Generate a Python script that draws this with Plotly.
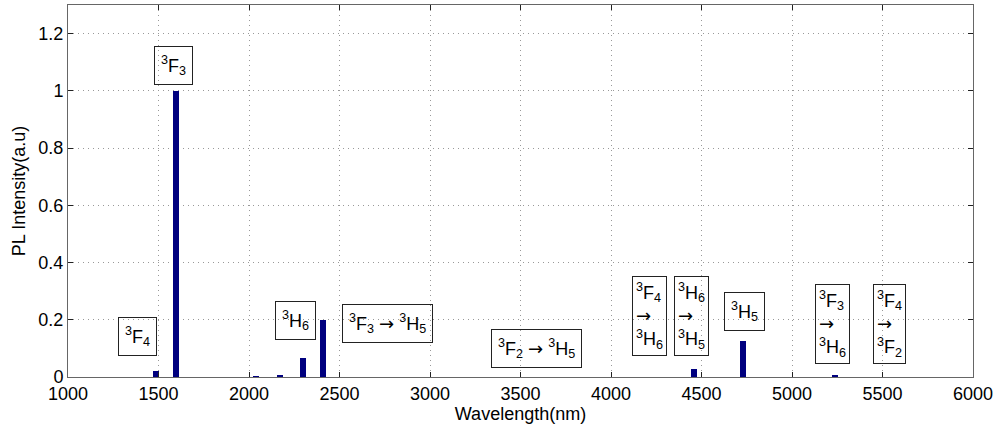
import plotly.graph_objects as go

# Data
wavelengths = [1486, 1597, 2040, 2173, 2297, 2407, 4460, 4727, 5236]
intensities = [0.02, 1.0, 0.002, 0.005, 0.065, 0.2, 0.027, 0.125, 0.008]

ARW = '<span style="font-family:DejaVu Sans">→</span>'
label_texts = [
    "<sup>3</sup>F<sub>4</sub>",
    "<sup>3</sup>F<sub>3</sub>",
    "<sup>3</sup>H<sub>6</sub>",
    "<sup>3</sup>F<sub>3</sub> " + ARW + " <sup>3</sup>H<sub>5</sub>",
    "<sup>3</sup>F<sub>2</sub> " + ARW + " <sup>3</sup>H<sub>5</sub>",
    "<sup>3</sup>F<sub>4</sub><br>" + ARW + "<br><sup>3</sup>H<sub>6</sub>",
    "<sup>3</sup>H<sub>6</sub><br>" + ARW + "<br><sup>3</sup>H<sub>5</sub>",
    "<sup>3</sup>H<sub>5</sub>",
    "<sup>3</sup>F<sub>3</sub><br>" + ARW + "<br><sup>3</sup>H<sub>6</sub>",
    "<sup>3</sup>F<sub>4</sub><br>" + ARW + "<br><sup>3</sup>F<sub>2</sub>",
]
label_x = [1384, 1585, 2258, 2763, 3588, 4212, 4446, 4736, 5222, 5536]
label_y = [0.143, 1.09, 0.197, 0.186, 0.099, 0.212, 0.212, 0.23, 0.185, 0.185]

x_ticks = [1000, 1500, 2000, 2500, 3000, 3500, 4000, 4500, 5000, 5500, 6000]
y_ticks = [0, 0.2, 0.4, 0.6, 0.8, 1.0, 1.2]
y_tick_text = ["0", "0.2", "0.4", "0.6", "0.8", "1", "1.2"]

FONT = "Liberation Sans, Arial, Helvetica, sans-serif"

fig = go.Figure()
fig.add_trace(go.Bar(
    x=wavelengths, y=intensities, width=33,
    marker=dict(color="#00007F", line=dict(width=0)),
    showlegend=False,
))

for t, xx, yy in zip(label_texts, label_x, label_y):
    multi = "<br>" in t
    fig.add_annotation(
        x=xx, y=yy, xref="x", yref="y", text=t, showarrow=False,
        align="left", bordercolor="#222", borderwidth=1,
        borderpad=3 if multi else 6,
        font=dict(family=FONT, size=18, color="black"),
    )

axis_common = dict(
    showline=True, linecolor="#666", linewidth=1, mirror="ticks",
    ticks="inside", ticklen=5, tickcolor="#222",
    showgrid=True, gridcolor="#999", griddash="1px,4px", gridwidth=1,
    zeroline=False, automargin=False,
    tickfont=dict(family=FONT, size=18, color="black"),
)

fig.update_xaxes(
    range=[1000, 6000], tickvals=x_ticks,
    title=dict(text="Wavelength(nm)", font=dict(family=FONT, size=18, color="black"), standoff=0),
    **axis_common,
)
fig.update_yaxes(
    range=[0, 1.3], tickvals=y_ticks, ticktext=y_tick_text,
    title=dict(text="PL Intensity(a.u)", font=dict(family=FONT, size=18, color="black"), standoff=8),
    **axis_common,
)

fig.update_layout(
    width=1003, height=431,
    margin=dict(l=68, r=30, t=5, b=54),
    plot_bgcolor="white", paper_bgcolor="white",
    bargap=0,
)

fig.write_html(
    "out.html",
    config={"displayModeBar": False},
    post_script="document.body.style.margin='0';document.body.style.padding='0';",
)
